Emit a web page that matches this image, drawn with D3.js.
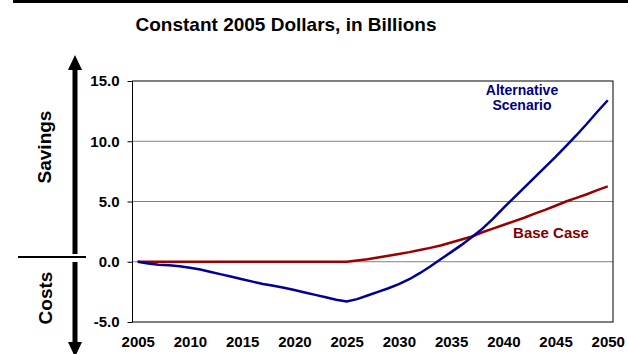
<!DOCTYPE html>
<html>
<head>
<meta charset="utf-8">
<script src="https://cdn.jsdelivr.net/npm/d3@7"></script>
<style>
  body { margin: 0; background: #fff; }
  svg { display: block; font-family: "Liberation Sans", Arial, sans-serif; }
  .tick text { font-weight: bold; font-size: 15px; fill: #000; }
</style>
</head>
<body>
<svg id="canvas"></svg>
<script>
/** Chart values */
let years = d3.range(2005, 2051);

let alternative = [
    0, -0.15, -0.25, -0.3, -0.38, -0.5, -0.65, -0.85, -1.05, -1.25,
    -1.45, -1.65, -1.85, -2.0, -2.15, -2.35, -2.55, -2.75, -2.95, -3.15,
    -3.3, -3.1, -2.8, -2.5, -2.2, -1.85, -1.45, -0.95, -0.4, 0.2,
    0.8, 1.4, 2.05, 2.75, 3.55, 4.45, 5.3, 6.15, 7.0, 7.85,
    8.7, 9.6, 10.5, 11.45, 12.45, 13.4
];

let baseCase = [
    0, 0, 0, 0, 0, 0, 0, 0, 0, 0,
    0, 0, 0, 0, 0, 0, 0, 0, 0, 0,
    0, 0.1, 0.2, 0.35, 0.5, 0.65, 0.8, 0.97, 1.15, 1.35,
    1.6, 1.85, 2.1, 2.45, 2.75, 3.05, 3.35, 3.65, 4.0, 4.3,
    4.65, 5.0, 5.3, 5.6, 5.95, 6.25
];

let yearTicks = [2005, 2010, 2015, 2020, 2025, 2030, 2035, 2040, 2045, 2050];
let valueTicks = [-5, 0, 5, 10, 15];
let gridValues = [0, 5, 10];

let width = 628;
let height = 354;

let plotLeft = 132.5;
let plotRight = 613;
let plotTop = 81;
let plotBottom = 322;

let canvas = d3.select('#canvas')
    .attr('width', width)
    .attr('height', height);

let xScale = d3.scalePoint()
    .domain(years)
    .range([plotLeft, plotRight])
    .padding(0.5);

let yScale = d3.scaleLinear()
    .domain([-5, 15])
    .range([plotBottom, plotTop]);

/** Rule at the very top */
canvas.append('rect')
    .attr('x', 13).attr('y', 0)
    .attr('width', width - 13).attr('height', 3)
    .attr('fill', '#000');

/** Title */
canvas.append('text')
    .attr('x', 286).attr('y', 31)
    .attr('text-anchor', 'middle')
    .style('font-size', '19px')
    .style('font-weight', 'bold')
    .text('Constant 2005 Dollars, in Billions');

/** Savings / Costs arrows */
let arrows = canvas.append('g').attr('fill', '#000');
arrows.append('rect').attr('x', 72.5).attr('y', 68).attr('width', 5).attr('height', 186);
arrows.append('path').attr('d', 'M75,55 L82,70 L68,70 Z');
arrows.append('rect').attr('x', 72.5).attr('y', 262).attr('width', 5).attr('height', 82);
arrows.append('path').attr('d', 'M75,357 L82,342 L68,342 Z');
arrows.append('rect').attr('x', 18).attr('y', 256).attr('width', 68).attr('height', 2);

canvas.append('text')
    .attr('transform', 'translate(51,147) rotate(-90)')
    .attr('text-anchor', 'middle')
    .style('font-size', '19px')
    .style('font-weight', 'bold')
    .text('Savings');

canvas.append('text')
    .attr('transform', 'translate(52,298) rotate(-90)')
    .attr('text-anchor', 'middle')
    .style('font-size', '19px')
    .style('font-weight', 'bold')
    .text('Costs');

/** Gridlines */
canvas.append('g')
    .selectAll('line')
    .data(gridValues)
    .enter()
    .append('line')
    .attr('x1', plotLeft).attr('x2', plotRight)
    .attr('y1', (d) => yScale(d)).attr('y2', (d) => yScale(d))
    .attr('stroke', '#808080')
    .attr('stroke-width', 1);

/** Plot border */
canvas.append('rect')
    .attr('x', plotLeft).attr('y', yScale(15))
    .attr('width', plotRight - plotLeft)
    .attr('height', yScale(-5) - yScale(15))
    .attr('fill', 'none')
    .attr('stroke', '#000')
    .attr('stroke-width', 1);

/** Axes */
let yAxis = d3.axisLeft(yScale)
    .tickValues(valueTicks)
    .tickFormat((d) => d.toFixed(1)) // plain hyphen for negatives
    .tickSize(5)
    .tickPadding(8);

canvas.append('g')
    .attr('transform', `translate(${plotLeft}, 0)`)
    .call(yAxis)
    .call((g) => g.select('.domain').remove());

let xAxis = d3.axisBottom(xScale)
    .tickValues(yearTicks)
    .tickSize(0)
    .tickPadding(14);

canvas.append('g')
    .attr('transform', `translate(0, ${plotBottom})`)
    .call(xAxis)
    .call((g) => g.select('.domain').remove());

/** Lines */
let line = d3.line()
    .x((d, i) => xScale(years[i]))
    .y((d) => yScale(d));

canvas.append('path')
    .datum(baseCase)
    .attr('d', line)
    .attr('fill', 'none')
    .attr('stroke', '#990000')
    .attr('stroke-width', 2.5);

canvas.append('path')
    .datum(alternative)
    .attr('d', line)
    .attr('fill', 'none')
    .attr('stroke', '#000099')
    .attr('stroke-width', 2.5);

/** Series labels */
let altLabel = canvas.append('text')
    .attr('text-anchor', 'middle')
    .attr('fill', '#000080')
    .style('font-size', '14px')
    .style('font-weight', 'bold');
altLabel.append('tspan').attr('x', 522).attr('y', 94.5).text('Alternative');
altLabel.append('tspan').attr('x', 522).attr('y', 110).text('Scenario');

canvas.append('text')
    .attr('x', 551).attr('y', 238)
    .attr('text-anchor', 'middle')
    .attr('fill', '#800000')
    .style('font-size', '15px')
    .style('font-weight', 'bold')
    .text('Base Case');
</script>
</body>
</html>
